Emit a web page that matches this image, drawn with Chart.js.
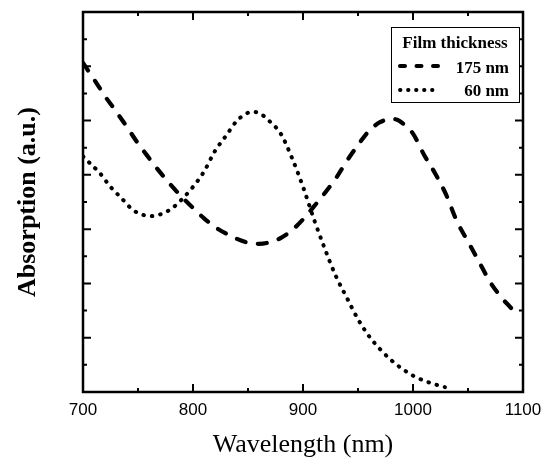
<!DOCTYPE html>
<html>
<head>
<meta charset="utf-8">
<script src="https://cdn.jsdelivr.net/npm/chart.js@4.4.0/dist/chart.umd.min.js"></script>
<style>
    html, body { margin: 0; padding: 0; background: #fff; }
    canvas { display: block; }
</style>
</head>
<body>
<canvas id="absChart" width="545" height="461"></canvas>
<script>
// Film thickness 175 nm (dashed)
const wl175 = [700, 710, 720, 730, 740, 750, 760, 770, 780, 790, 800, 810, 820, 830, 840, 850, 860, 870, 880, 890,
    900, 910, 920, 930, 940, 950, 960, 970, 980, 985, 990, 1000, 1010, 1020, 1030, 1040, 1050, 1060, 1070, 1080, 1090, 1095];
const abs175 = [6.06, 5.76, 5.45, 5.17, 4.88, 4.58, 4.31, 4.05, 3.81, 3.59, 3.39, 3.20, 3.04, 2.92, 2.82, 2.75, 2.73, 2.76, 2.84, 2.98,
    3.18, 3.42, 3.67, 3.94, 4.26, 4.55, 4.81, 4.97, 5.03, 5.02, 4.96, 4.76, 4.37, 4.03, 3.64, 3.14, 2.77, 2.40, 2.03, 1.75, 1.53, 1.42];

// Film thickness 60 nm (dotted)
const wl60 = [700, 708, 715, 725, 735, 745, 755, 762, 770, 780, 790, 800, 810, 820, 830, 840, 845, 853, 860, 870,
    880, 890, 900, 910, 920, 930, 940, 950, 960, 970, 980, 990, 1000, 1010, 1020, 1029];
const abs60 = [4.34, 4.18, 4.04, 3.78, 3.57, 3.36, 3.26, 3.24, 3.27, 3.37, 3.55, 3.78, 4.06, 4.44, 4.72, 5.00, 5.08, 5.16, 5.14, 4.98,
    4.75, 4.31, 3.78, 3.18, 2.63, 2.13, 1.73, 1.34, 1.03, 0.79, 0.59, 0.43, 0.30, 0.21, 0.14, 0.09];

const seriesNames = ['175 nm', '60 nm'];
const legendTitle = 'Film thickness';
const xTicks = [700, 800, 900, 1000, 1100];
const xMinorStep = 50;
const yMajorStep = 1;
const yMinorStep = 0.5;

const toPoints = (xs, ys) => xs.map((x, i) => ({ x, y: ys[i] }));

// Frame on all four sides with inward ticks
const framePlugin = {
    id: 'frame',
    afterDatasetsDraw(chart) {
        const { ctx, chartArea: a, scales: { x, y } } = chart;
        ctx.save();
        ctx.strokeStyle = '#000';
        ctx.lineWidth = 2;
        ctx.beginPath();
        for (let v = x.min; v <= x.max; v += xMinorStep) {
            const px = x.getPixelForValue(v);
            const len = v % 100 === 0 ? 8 : 4;
            ctx.moveTo(px, a.bottom); ctx.lineTo(px, a.bottom - len);
            ctx.moveTo(px, a.top); ctx.lineTo(px, a.top + len);
        }
        for (let v = y.min; v <= y.max; v += yMinorStep) {
            const py = y.getPixelForValue(v);
            const len = v % yMajorStep === 0 ? 8 : 4;
            ctx.moveTo(a.left, py); ctx.lineTo(a.left + len, py);
            ctx.moveTo(a.right, py); ctx.lineTo(a.right - len, py);
        }
        ctx.stroke();
        ctx.lineWidth = 2.5;
        ctx.strokeRect(a.left, a.top, a.right - a.left, a.bottom - a.top);
        ctx.restore();
    }
};

// Boxed legend in the upper right corner
const boxLegendPlugin = {
    id: 'boxLegend',
    afterDraw(chart) {
        const { ctx, chartArea: a } = chart;
        const right = a.right - 4;
        const left = right - 128;
        const top = a.top + 15;
        ctx.save();
        ctx.fillStyle = '#fff';
        ctx.fillRect(left, top, right - left, 75);
        ctx.strokeStyle = '#000';
        ctx.lineWidth = 1;
        ctx.strokeRect(left + 0.5, top + 0.5, right - left, 75);

        ctx.fillStyle = '#000';
        ctx.font = 'bold 17px "Liberation Serif"';
        ctx.textBaseline = 'alphabetic';
        ctx.textAlign = 'center';
        ctx.fillText(legendTitle, left + 64, top + 21);

        const samples = [
            { dash: [5, 11.5], width: 4, y: top + 39, textY: top + 46 },
            { dash: [0.5, 7.5], width: 3.8, y: top + 63, textY: top + 69 }
        ];
        ctx.textAlign = 'right';
        samples.forEach((s, i) => {
            ctx.beginPath();
            ctx.setLineDash(s.dash);
            ctx.lineCap = 'round';
            ctx.lineWidth = s.width;
            ctx.moveTo(left + 9, s.y);
            ctx.lineTo(left + 49, s.y);
            ctx.stroke();
            ctx.setLineDash([]);
            ctx.fillText(seriesNames[i], right - 10, s.textY);
        });
        ctx.restore();
    }
};

const ctx = document.getElementById('absChart').getContext('2d');
new Chart(ctx, {
    type: 'line',
    data: {
        datasets: [
            {
                label: seriesNames[0],
                data: toPoints(wl175, abs175),
                borderColor: '#000',
                borderWidth: 4.2,
                borderDash: [9, 12.5],
                borderCapStyle: 'round',
                cubicInterpolationMode: 'monotone',
                pointRadius: 0,
                fill: false
            },
            {
                label: seriesNames[1],
                data: toPoints(wl60, abs60),
                borderColor: '#000',
                borderWidth: 4,
                borderDash: [0.5, 8],
                borderCapStyle: 'round',
                cubicInterpolationMode: 'monotone',
                pointRadius: 0,
                fill: false
            }
        ]
    },
    options: {
        responsive: false,
        animation: false,
        layout: { padding: { left: 0, top: 12, right: 22, bottom: 0 } },
        plugins: {
            legend: { display: false },
            tooltip: { enabled: false }
        },
        scales: {
            x: {
                type: 'linear',
                min: 700,
                max: 1100,
                grid: { display: false, drawTicks: false },
                border: { display: false },
                ticks: {
                    color: '#000',
                    padding: 8,
                    maxRotation: 0,
                    autoSkip: false,
                    font: { family: 'Liberation Sans', size: 17 },
                    callback: v => String(v)
                },
                afterBuildTicks: scale => { scale.ticks = xTicks.map(v => ({ value: v })); },
                afterFit: scale => {
                    scale.height = 69;
                    scale.paddingLeft = 0;
                    scale.paddingRight = 0;
                },
                title: {
                    display: true,
                    text: 'Wavelength (nm)',
                    color: '#000',
                    padding: { top: 0, bottom: 0 },
                    font: { family: 'Liberation Serif', size: 26, lineHeight: 1.2 }
                }
            },
            y: {
                type: 'linear',
                min: 0,
                max: 7,
                grid: { display: false, drawTicks: false },
                border: { display: false },
                ticks: { display: false },
                afterFit: scale => { scale.width = 83; },
                title: {
                    display: true,
                    text: 'Absorption (a.u.)',
                    color: '#000',
                    padding: { top: 13, bottom: 0 },
                    font: { family: 'Liberation Serif', size: 26, weight: 'bold', lineHeight: 1.2 }
                }
            }
        }
    },
    plugins: [framePlugin, boxLegendPlugin]
});
</script>
</body>
</html>
